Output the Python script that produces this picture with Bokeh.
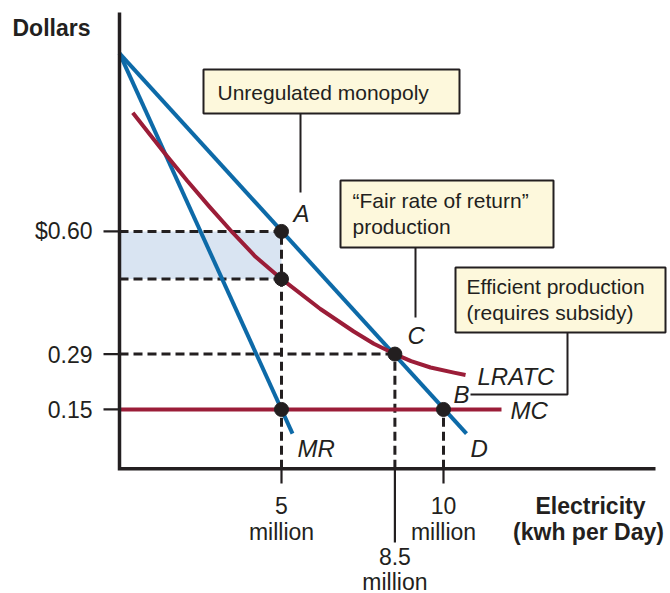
from bokeh.plotting import figure
from bokeh.models import Range1d
from bokeh.core.properties import value
from bokeh.embed import file_html
from bokeh.resources import INLINE

# ---------------- data (quantity in million kwh/day, price in dollars) ----------------
demand_q = [0.0, 10.71]
demand_p = [1.05, 0.089]

mr_q = [0.0, 5.34]
mr_p = [1.05, 0.089]

mc_q = [0.0, 11.79]
mc_p = [0.15, 0.15]

lratc_q = [0.41, 1.37, 2.09, 2.76, 3.48, 4.20, 5.0, 6.2, 7.23, 7.85, 8.5, 9.0, 9.6, 10.32, 10.68]
lratc_p = [0.900, 0.800, 0.728, 0.664, 0.598, 0.536, 0.48, 0.404, 0.347, 0.316, 0.29, 0.272, 0.256, 0.243, 0.237]

# named points
pt_names = ["A", "ATC5", "C", "B", "MR5"]
pt_q = [5.0, 5.0, 8.5, 10.0, 5.0]
pt_p = [0.60, 0.48, 0.29, 0.15, 0.15]

# shaded area (monopoly profit)
shade_q = [0.0, 5.0]
shade_p = [0.48, 0.60]

y_ticks = [0.60, 0.29, 0.15]
y_tick_labels = ["$0.60", "0.29", "0.15"]
x_ticks = [5.0, 8.5, 10.0]
x_tick_top = ["5", "8.5", "10"]
x_tick_bottom = ["million", "million", "million"]

# ---------------- layout helpers (page pixel -> data units) ----------------
X0, SX = 119.0, 32.4
Y0, SY = 468.3, 395.6
W, H = 670, 593


def px(X):
    return (X - X0) / SX


def py(Y):
    return (Y0 - Y) / SY


FONT = value("Liberation Sans")
INK = "#231f20"
BLUE = "#0d6aa8"
RED = "#9b1d38"

p = figure(width=W, height=H, output_backend="svg", toolbar_location=None,
           x_axis_type=None, y_axis_type=None,
           x_range=Range1d(px(0), px(W)), y_range=Range1d(py(H), py(0)),
           min_border=0, min_border_left=0, min_border_right=0,
           min_border_top=0, min_border_bottom=0)
p.outline_line_color = None
p.grid.visible = False
p.background_fill_color = "white"

# shaded rectangle
p.quad(left=[shade_q[0]], right=[shade_q[1]], bottom=[shade_p[0]], top=[shade_p[1]],
       fill_color="#d9e4f2", line_color=None)

# dashed guide lines
dash = dict(line_color=INK, line_width=3, line_dash="9 5")
hx0, hx1, hy = [], [], []
for (q, pr) in [(pt_q[0], pt_p[0]), (pt_q[1], pt_p[1]), (pt_q[2], pt_p[2])]:
    hx0.append(0.0); hx1.append(q); hy.append(pr)
p.segment(x0=hx0, y0=hy, x1=hx1, y1=hy, **dash)
vq = [pt_q[0], pt_q[2], pt_q[3]]
vp = [pt_p[0], pt_p[2], pt_p[3]]
p.segment(x0=vq, y0=[0.0] * 3, x1=vq, y1=vp, **dash)

# curves
p.line(demand_q, demand_p, line_color=BLUE, line_width=4)
p.line(mr_q, mr_p, line_color=BLUE, line_width=4)
p.line(mc_q, mc_p, line_color=RED, line_width=4)
p.line(lratc_q, lratc_p, line_color=RED, line_width=4, line_join="round")

# axes
p.line([px(655), 0.0, 0.0], [0.0, 0.0, py(12)], line_color=INK, line_width=3.5,
       line_join="miter")
# y ticks
p.segment(x0=[px(103)] * 3, y0=y_ticks, x1=[0.0] * 3, y1=y_ticks, line_color=INK, line_width=2.2)
# x ticks
tick_end = [py(483), py(542), py(483)]
p.segment(x0=x_ticks, y0=[0.0] * 3, x1=x_ticks, y1=tick_end, line_color=INK, line_width=2.2)

# points
p.scatter(pt_q, pt_p, size=14, fill_color=INK, line_color=INK)

# tick labels
p.text(x=[px(92)] * 3, y=y_ticks, text=y_tick_labels, text_font=FONT, text_font_size="23px",
       text_align="right", text_baseline="middle", text_color=INK)
top_y = [py(505), py(556), py(505)]
bot_y = [py(531), py(581), py(531)]
p.text(x=x_ticks, y=top_y, text=x_tick_top, text_font=FONT, text_font_size="23px",
       text_align="center", text_baseline="middle", text_color=INK)
p.text(x=x_ticks, y=bot_y, text=x_tick_bottom, text_font=FONT, text_font_size="23px",
       text_align="center", text_baseline="middle", text_color=INK)

# axis titles
p.text(x=[px(12)], y=[py(27)], text=["Dollars"], text_font=FONT, text_font_size="23px",
       text_font_style="bold", text_align="left", text_baseline="middle", text_color=INK)
p.text(x=[px(590), px(588)], y=[py(505), py(531)], text=["Electricity", "(kwh per Day)"],
       text_font=FONT, text_font_size="23px", text_font_style="bold",
       text_align="center", text_baseline="middle", text_color=INK)

# curve labels (italic)
lab_x = [px(293), px(407), px(453), px(297), px(477), px(510), px(470)]
lab_y = [py(213), py(335), py(394), py(448), py(376), py(410), py(448)]
lab_t = ["A", "C", "B", "MR", "LRATC", "MC", "D"]
p.text(x=lab_x, y=lab_y, text=lab_t, text_font=FONT, text_font_size="24px",
       text_font_style="italic", text_align="left", text_baseline="middle", text_color=INK)

# annotation boxes
bl = [px(203), px(340), px(455)]
br = [px(459), px(553), px(665)]
bt = [py(69), py(180), py(267)]
bb = [py(113), py(247), py(332)]
p.quad(left=bl, right=br, top=bt, bottom=bb, fill_color="#fdf8dc", line_color=INK, line_width=2)

# leader lines
p.multi_line(xs=[[px(300), px(300)], [px(415), px(415)], [px(567), px(567), px(470)]],
             ys=[[py(113), py(192)], [py(247), py(317)], [py(332), py(394), py(394)]],
             line_color=INK, line_width=2)

box_tx = [px(217), px(352), px(352), px(466), px(466)]
box_ty = [py(92), py(200), py(226), py(286), py(312)]
box_t = ["Unregulated monopoly", "\u201cFair rate of return\u201d", "production",
         "Efficient production", "(requires subsidy)"]
p.text(x=box_tx, y=box_ty, text=box_t, text_font=FONT, text_font_size="21px",
       text_align="left", text_baseline="middle", text_color=INK)

open("out.html", "w").write(file_html(p, INLINE))
